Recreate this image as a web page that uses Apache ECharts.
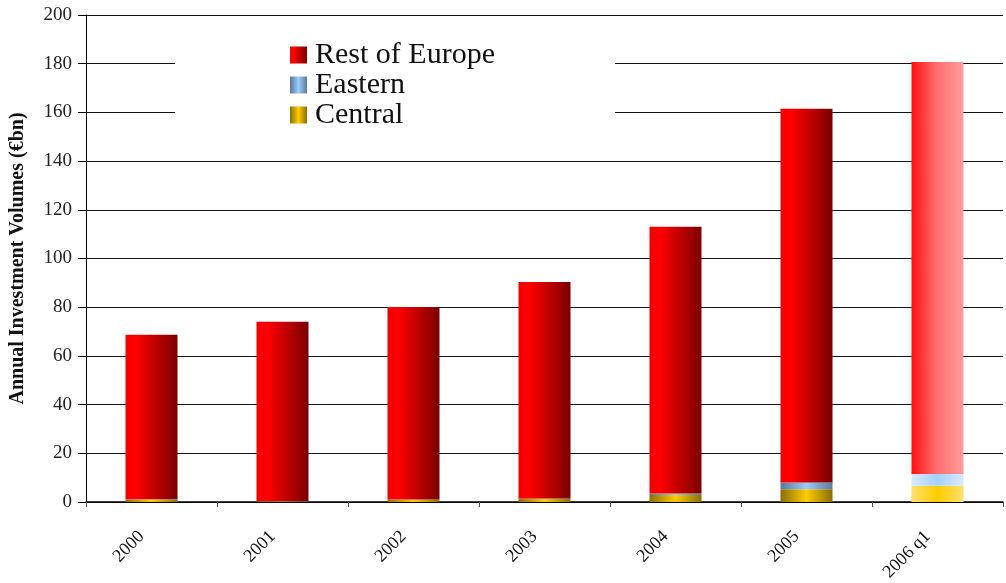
<!DOCTYPE html>
<html>
<head>
<meta charset="utf-8">
<script src="https://cdn.jsdelivr.net/npm/echarts@6/dist/echarts.min.js"></script>
<style>html,body{margin:0;padding:0;background:#fff}#c{width:1006px;height:583px}</style>
</head>
<body>
<div id="c"></div>
<script>
const categories = ['2000', '2001', '2002', '2003', '2004', '2005', '2006 q1'];
const restOfEurope = [67.6, 73.7, 79.1, 89.0, 109.5, 153.5, 169.2];
const eastern = [0.1, 0.1, 0.1, 0.2, 0.6, 2.8, 4.8];
const central = [1.0, 0.2, 0.9, 1.2, 2.9, 5.2, 6.7];
const yTicks = [0, 20, 40, 60, 80, 100, 120, 140, 160, 180, 200];

const FONT = '"Liberation Serif", "DejaVu Serif", serif';
function grad(stops) {
  return { type: 'linear', x: 0, y: 0, x2: 1, y2: 0,
    colorStops: stops.map(s => ({ offset: s[0], color: s[1] })) };
}
const redG = grad([[0, '#f00000'], [0.2, '#ff0000'], [1, '#7a0000']]);
const redLight = grad([[0, '#ff1010'], [0.5, '#ff7070'], [1, '#ff9c9c']]);
const blueG = grad([[0, '#5a7896'], [0.5, '#99ccff'], [1, '#5e7a98']]);
const blueLight = grad([[0, '#dbeaf8'], [0.5, '#a3d0ff'], [1, '#dbeaf8']]);
const goldG = grad([[0, '#8a6e00'], [0.5, '#ffcc00'], [1, '#8a6e00']]);
const goldLight = grad([[0, '#ffe070'], [0.5, '#ffcc00'], [1, '#ffe070']]);

function mk(vals, light) {
  return vals.map((v, i) => i === vals.length - 1 ? { value: v, itemStyle: { color: light } } : v);
}

const chart = echarts.init(document.getElementById('c'));
chart.setOption({
  animation: false,
  backgroundColor: '#fff',
  textStyle: { fontFamily: FONT },
  grid: { left: 86, right: 3, top: 15, bottom: 81, outerBoundsMode: 'none', containLabel: false },
  legend: {
    orient: 'vertical',
    left: 175, top: 38,
    padding: [2, 120, 6, 115],
    backgroundColor: '#fff',
    icon: 'rect',
    itemWidth: 17, itemHeight: 17, itemGap: 0,
    data: ['Rest of Europe', 'Eastern', 'Central'],
    textStyle: { fontFamily: FONT, fontSize: 30, color: '#111', lineHeight: 29, padding: [0, 0, 0, 3] },
    z: 3
  },
  xAxis: {
    type: 'category',
    data: categories,
    axisLine: { lineStyle: { color: '#000', width: 1.5 } },
    axisTick: { show: true, length: 5, lineStyle: { color: '#555' } },
    axisLabel: { rotate: 45, fontSize: 18, color: '#111', fontFamily: FONT, margin: 22,
      padding: [0, 14, 0, 0] }
  },
  yAxis: {
    type: 'value',
    min: 0, max: 200, interval: 20,
    name: 'Annual Investment Volumes (€bn)',
    nameLocation: 'middle', nameGap: 58, nameRotate: 90,
    nameTextStyle: { fontFamily: FONT, fontSize: 20, fontWeight: 'bold', color: '#111' },
    axisLine: { show: true, lineStyle: { color: '#000', width: 1 } },
    axisTick: { show: true, length: 8, lineStyle: { color: '#000' } },
    axisLabel: { fontSize: 19, color: '#222', fontFamily: FONT, margin: 14,
      formatter: v => yTicks.includes(v) ? String(v) : '' },
    splitLine: { show: true, lineStyle: { color: '#111', width: 1.2 } }
  },
  series: [
    { name: 'Central', type: 'bar', stack: 't', barWidth: 52, itemStyle: { color: goldG },
      data: mk(central, goldLight) },
    { name: 'Eastern', type: 'bar', stack: 't', barWidth: 52, itemStyle: { color: blueG },
      data: mk(eastern, blueLight) },
    { name: 'Rest of Europe', type: 'bar', stack: 't', barWidth: 52, itemStyle: { color: redG },
      data: mk(restOfEurope, redLight) }
  ]
});
</script>
</body>
</html>
